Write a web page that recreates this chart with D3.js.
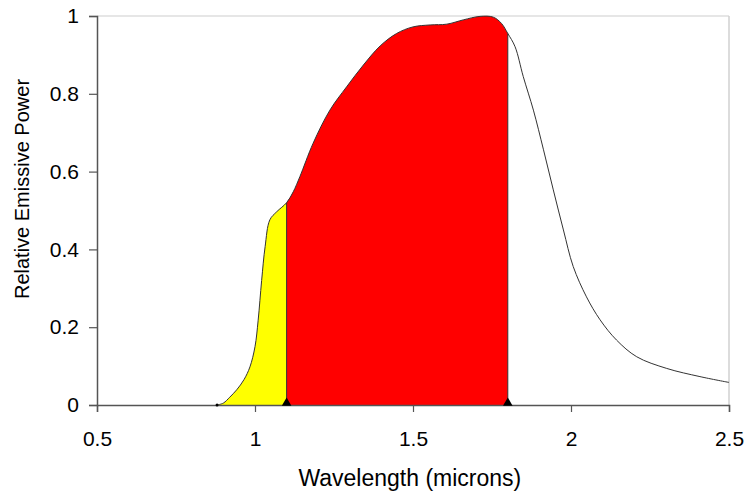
<!DOCTYPE html>
<html>
<head>
<meta charset="utf-8">
<script src="https://cdn.jsdelivr.net/npm/d3@7"></script>
<style>
  body { margin: 0; background: #fff; }
  text { font-family: "Liberation Sans", Arial, sans-serif; fill: #000; }
</style>
</head>
<body>
<svg id="chart" width="746" height="492"></svg>
<script>
// values
const wavelength = [0.88, 0.90, 0.92, 0.942, 0.965, 0.984, 1.0, 1.01, 1.021, 1.032, 1.047, 1.069, 1.1,
  1.121, 1.142, 1.184, 1.237, 1.29, 1.343, 1.396, 1.448, 1.5, 1.554, 1.607, 1.659, 1.712, 1.754, 1.78, 1.8,
  1.823, 1.849, 1.881, 1.913, 1.944, 1.976, 2.007, 2.049, 2.092, 2.144, 2.208, 2.303, 2.408, 2.5];
const power = [0, 0.005, 0.02, 0.039, 0.065, 0.098, 0.15, 0.218, 0.32, 0.407, 0.476, 0.497, 0.52,
  0.548, 0.587, 0.673, 0.758, 0.818, 0.874, 0.923, 0.955, 0.972, 0.977, 0.979, 0.99, 0.999, 0.997, 0.981, 0.955,
  0.921, 0.844, 0.758, 0.656, 0.553, 0.45, 0.356, 0.278, 0.219, 0.167, 0.124, 0.094, 0.073, 0.058];
const xTicks = [0.5, 1, 1.5, 2, 2.5];
const yTicks = [0, 0.2, 0.4, 0.6, 0.8, 1];
const bands = [
  {from: 0.88, to: 1.1, color: '#ffff00'},
  {from: 1.1, to: 1.8, color: '#ff0000'}
];
const cutoffs = [1.1, 1.8];

const svg = d3.select('#chart');
const margin = {top: 16, right: 17, bottom: 87, left: 97};
const width = +svg.attr('width');
const height = +svg.attr('height');
const innerWidth = width - margin.left - margin.right;
const innerHeight = height - margin.top - margin.bottom;

const g = svg.append('g')
  .attr('transform', `translate(${margin.left}, ${margin.top})`);

const data = wavelength.map((w, i) => ({x: w, y: power[i]}));

const xScale = d3.scaleLinear().domain([0.5, 2.5]).range([0, innerWidth]);
const yScale = d3.scaleLinear().domain([0, 1]).range([innerHeight, 0]);

// plot frame: light top / right borders
g.append('line')
  .attr('x1', 0).attr('x2', innerWidth).attr('y1', 0).attr('y2', 0)
  .attr('stroke', '#e6e6e6').attr('stroke-width', 2);
g.append('line')
  .attr('x1', innerWidth).attr('x2', innerWidth).attr('y1', 0).attr('y2', innerHeight)
  .attr('stroke', '#d0d0d0').attr('stroke-width', 1.5);

const curve = d3.curveCatmullRom.alpha(0.5);

// filled bands
const area = d3.area()
  .x(d => xScale(d.x))
  .y0(yScale(0))
  .y1(d => yScale(d.y))
  .curve(curve);

bands.forEach(b => {
  const part = data.filter(d => d.x >= b.from && d.x <= b.to);
  g.append('path')
    .datum(part)
    .attr('fill', b.color)
    .attr('d', area);
});

// vertical cut lines
g.selectAll('.cut').data(cutoffs).enter().append('line')
  .attr('class', 'cut')
  .attr('x1', d => xScale(d)).attr('x2', d => xScale(d))
  .attr('y1', yScale(0))
  .attr('y2', d => yScale(power[wavelength.indexOf(d)]))
  .attr('stroke', '#333').attr('stroke-width', 1);

// curve
const line = d3.line()
  .x(d => xScale(d.x))
  .y(d => yScale(d.y))
  .curve(curve);

g.append('path')
  .datum(data)
  .attr('fill', 'none')
  .attr('stroke', '#333')
  .attr('stroke-width', 1)
  .attr('d', line);

// axes
const xAxis = d3.axisBottom(xScale).tickValues(xTicks).tickSize(7).tickPadding(19)
  .tickFormat(d3.format('~g'));
const yAxis = d3.axisLeft(yScale).tickValues(yTicks).tickSize(8).tickPadding(10)
  .tickFormat(d3.format('~g'));

const xAxisGroup = g.append('g')
  .attr('transform', `translate(0, ${innerHeight})`)
  .call(xAxis);
const yAxisGroup = g.append('g').call(yAxis);

[xAxisGroup, yAxisGroup].forEach(ax => {
  ax.select('.domain').attr('stroke', '#555').attr('stroke-width', 1.5);
  ax.selectAll('.tick line').attr('stroke', '#555').attr('stroke-width', 1.2);
  ax.selectAll('.tick text').attr('font-size', '21px').attr('fill', '#000');
});

// markers at the cut-offs and start
g.selectAll('.tri').data(cutoffs).enter().append('path')
  .attr('class', 'tri')
  .attr('transform', d => `translate(${xScale(d)}, ${yScale(0) - 2})`)
  .attr('d', d3.symbol(d3.symbolTriangle, 40))
  .attr('fill', '#000');
g.append('circle')
  .attr('cx', xScale(wavelength[0])).attr('cy', yScale(0))
  .attr('r', 1.5).attr('fill', '#000');

// axis titles
svg.append('text')
  .attr('x', margin.left + xScale(1.49))
  .attr('y', 486)
  .attr('text-anchor', 'middle')
  .attr('font-size', '23px')
  .text('Wavelength (microns)');

svg.append('text')
  .attr('transform', `translate(29, 189) rotate(-90)`)
  .attr('text-anchor', 'middle')
  .attr('font-size', '20px')
  .text('Relative Emissive Power');
</script>
</body>
</html>
